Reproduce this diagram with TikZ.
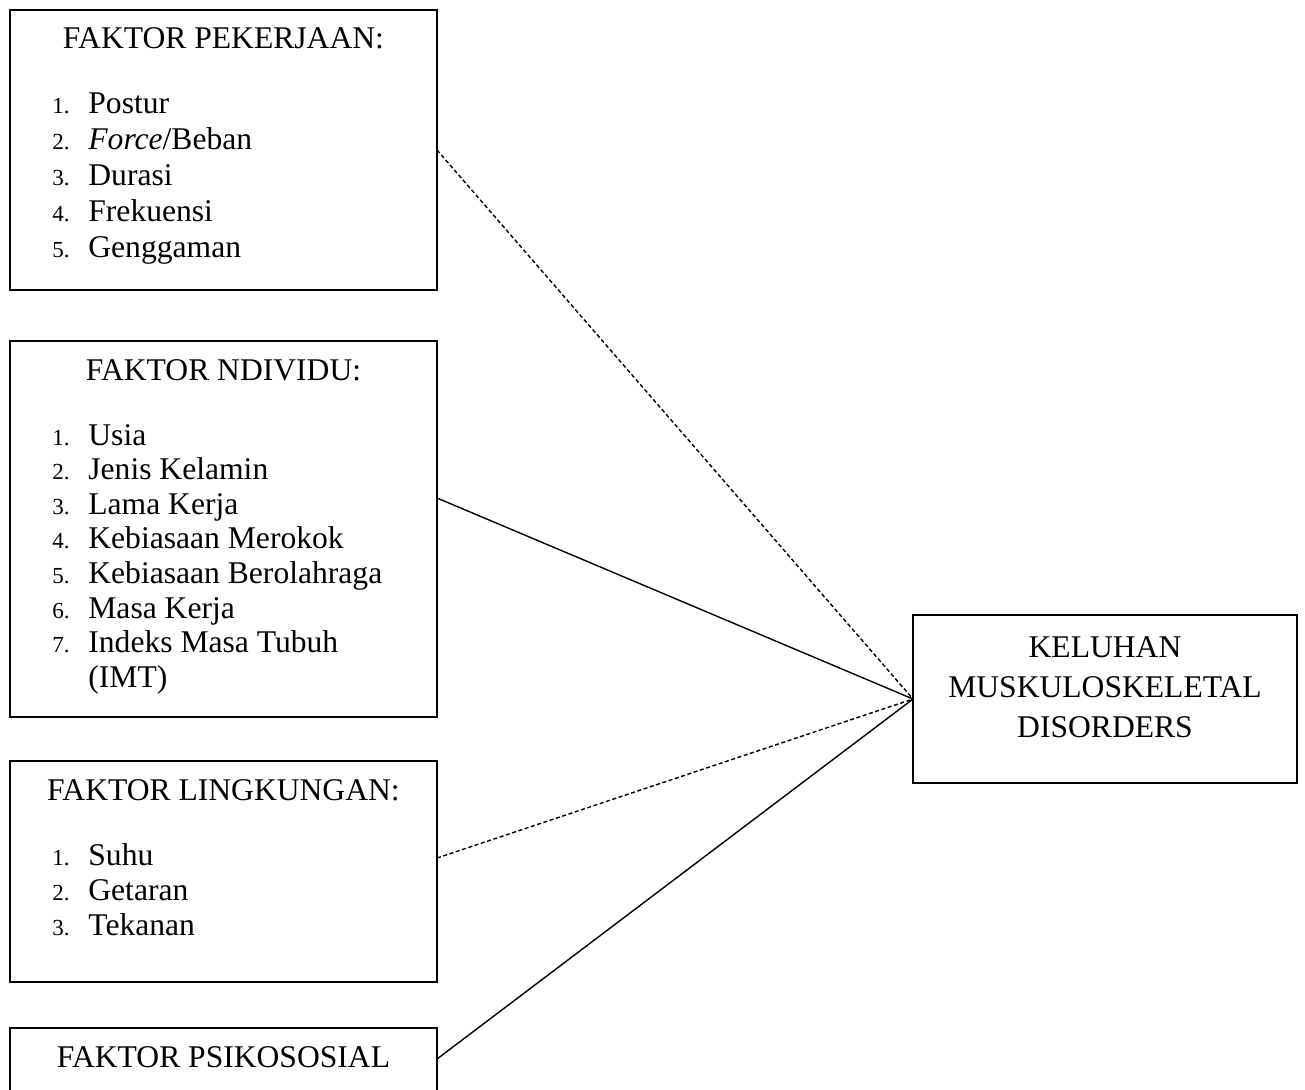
\documentclass[tikz,border=0pt]{standalone}
\usepackage{fontspec}
\setmainfont{Liberation Serif}
\usetikzlibrary{positioning}
\newcommand{\nomor}[1]{\makebox[18pt][l]{\fontsize{11.5pt}{12pt}\selectfont #1}}

\begin{document}
\begin{tikzpicture}[
  faktor/.style={rectangle,draw,line width=0.8pt,inner sep=0pt,outer sep=0pt,minimum width=213.5pt,anchor=north west},
  judul/.style={inner sep=0pt,anchor=base,font=\fontsize{15.8pt}{19pt}\selectfont},
  daftar/.style={inner sep=0pt,anchor=base west,font=\fontsize{15.8pt}{#1}\selectfont},
  daftar/.default=17.3pt,
  hubung/.style={line width=0.7pt},
  putus/.style={line width=0.7pt,dash pattern=on 2pt off 1.3pt}
]
  \useasboundingbox (0,0) rectangle (652.5pt,-544.5pt);
  \node[faktor,minimum height=140pt] (pek) at (5pt,-5pt) {};
  \node[faktor,minimum height=188pt,below=25.5pt of pek] (ind) {};
  \node[faktor,minimum height=110.5pt,below=22pt of ind] (lin) {};
  \node[faktor,minimum height=40pt,below=23pt of lin] (psi) {};
  \node[judul] (pekT) at ([yshift=-19pt]pek.north) {FAKTOR PEKERJAAN:};
  \node[judul] (indT) at ([yshift=-19.5pt]ind.north) {FAKTOR NDIVIDU:};
  \node[judul] (linT) at ([yshift=-19.5pt]lin.north) {FAKTOR LINGKUNGAN:};
  \node[judul] (psiT) at ([yshift=-19.5pt]psi.north) {FAKTOR PSIKOSOSIAL};
  \node[daftar=18.1pt] (pekL) at ([shift={(21pt,-51.5pt)}]pek.north west) {\begin{tabular}[t]{@{}l@{}}
    \nomor{1.}Postur\\
    \nomor{2.}\textit{Force}/Beban\\
    \nomor{3.}Durasi\\
    \nomor{4.}Frekuensi\\
    \nomor{5.}Genggaman
  \end{tabular}};
  \node[daftar] (indL) at ([shift={(21pt,-52pt)}]ind.north west) {\begin{tabular}[t]{@{}l@{}}
    \nomor{1.}Usia\\
    \nomor{2.}Jenis Kelamin\\
    \nomor{3.}Lama Kerja\\
    \nomor{4.}Kebiasaan Merokok\\
    \nomor{5.}Kebiasaan Berolahraga\\
    \nomor{6.}Masa Kerja\\
    \nomor{7.}Indeks Masa Tubuh\\
    \nomor{}(IMT)
  \end{tabular}};
  \node[daftar=17.5pt] (linL) at ([shift={(21pt,-52pt)}]lin.north west) {\begin{tabular}[t]{@{}l@{}}
    \nomor{1.}Suhu\\
    \nomor{2.}Getaran\\
    \nomor{3.}Tekanan
  \end{tabular}};
  \node[rectangle,draw,line width=0.8pt,inner sep=0pt,outer sep=0pt,minimum width=192pt,minimum height=84pt,anchor=north west,align=center,font=\fontsize{15.8pt}{20pt}\selectfont,text depth=12pt] (msd) at (456.5pt,-307.5pt) {KELUHAN\\MUSKULOSKELETAL\\DISORDERS};
  \draw[putus] (pek.east) -- (msd.west);
  \draw[hubung] ([yshift=-78.5pt]ind.north east) -- (msd.west);
  \draw[putus] ([yshift=-48.5pt]lin.north east) -- (msd.west);
  \draw[hubung] ([yshift=-15.5pt]psi.north east) -- (msd.west);
\end{tikzpicture}
\end{document}
